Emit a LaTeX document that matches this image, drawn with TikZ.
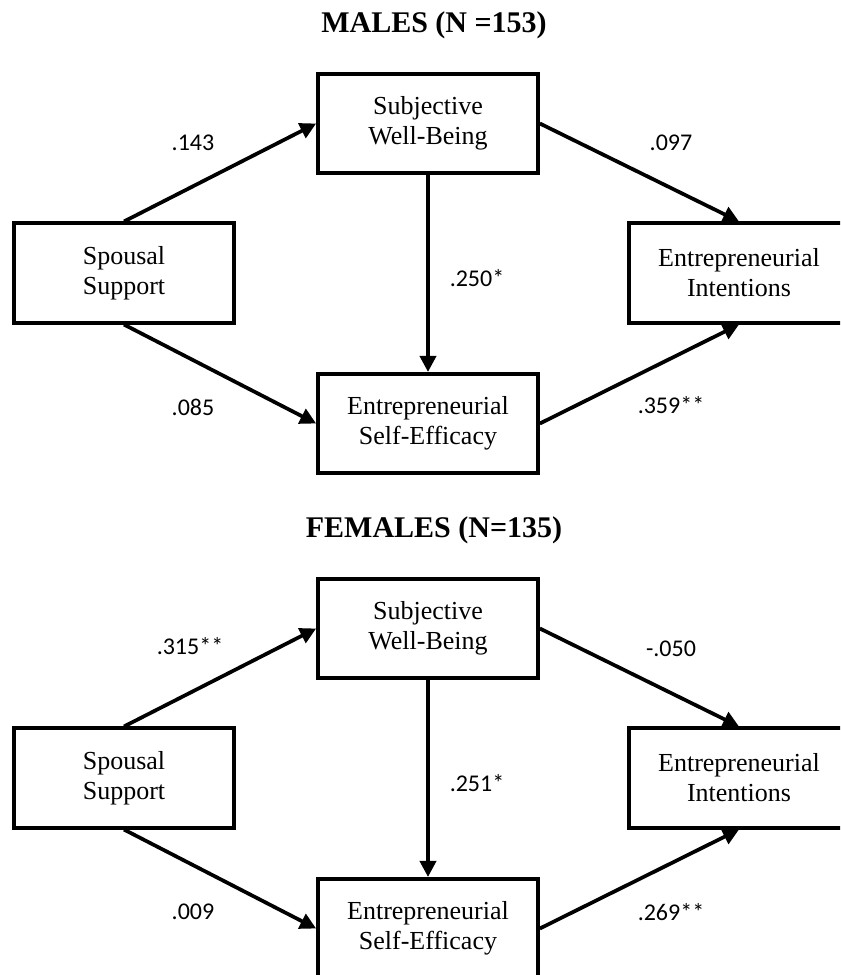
\documentclass[tikz,border=0pt]{standalone}
\usepackage{fontspec}
\setmainfont{Liberation Serif}
\newfontfamily\labfont{Carlito}
\usetikzlibrary{arrows.meta}
\begin{document}
\begin{tikzpicture}[x=0.75pt,y=-0.75pt,
  varbox/.style={draw, line width=2.8pt, minimum width=165pt, minimum height=74.5pt,
    inner sep=0pt, align=center, font=\fontsize{19.5}{22.5}\selectfont},
  path/.style={line width=2.8pt, -{Triangle[length=12pt,width=12pt]}},
  coef/.style={font=\labfont\fontsize{18}{20}\selectfont, inner sep=0pt},
  ttl/.style={font=\bfseries\fontsize{22.5}{26}\selectfont, inner sep=0pt}]
\clip (0,0) rectangle (840,975);
\fill[white] (0,0) rectangle (840,975);
% ---------- MALES ----------
\node[ttl] (t1) at (434,25) {MALES (N =153)};
\node[varbox] (swb1) at (428,123.5) {Subjective\\Well-Being};
\node[varbox] (ss1) at (124,273) {Spousal\\Support};
\node[varbox] (ei1) at (739,273) {Entrepreneurial\\Intentions};
\node[varbox] (ese1) at (428,423.5) {Entrepreneurial\\Self-Efficacy};
\draw[path] (ss1.north) -- (swb1.west);
\draw[path] (swb1.east) -- (ei1.north);
\draw[path] (ss1.south) -- (ese1.west);
\draw[path] (ese1.east) -- (ei1.south);
\draw[path] (swb1.south) -- (ese1.north);
\node[coef] (c11) at (193,143) {.143};
\node[coef] (c12) at (671,143) {.097};
\node[coef] (c13) at (477,278) {.250*};
\node[coef] (c14) at (193,407) {.085};
\node[coef] (c15) at (671,405) {.359**};
% ---------- FEMALES ----------
\node[ttl] (t2) at (434,530) {FEMALES (N=135)};
\node[varbox] (swb2) at (428,628.5) {Subjective\\Well-Being};
\node[varbox] (ss2) at (124,778) {Spousal\\Support};
\node[varbox] (ei2) at (739,778) {Entrepreneurial\\Intentions};
\node[varbox] (ese2) at (428,928.5) {Entrepreneurial\\Self-Efficacy};
\draw[path] (ss2.north) -- (swb2.west);
\draw[path] (swb2.east) -- (ei2.north);
\draw[path] (ss2.south) -- (ese2.west);
\draw[path] (ese2.east) -- (ei2.south);
\draw[path] (swb2.south) -- (ese2.north);
\node[coef] (c21) at (190,646) {.315**};
\node[coef] (c22) at (671,649) {-.050};
\node[coef] (c23) at (477,783) {.251*};
\node[coef] (c24) at (193,912) {.009};
\node[coef] (c25) at (671,912) {.269**};
\end{tikzpicture}
\end{document}
